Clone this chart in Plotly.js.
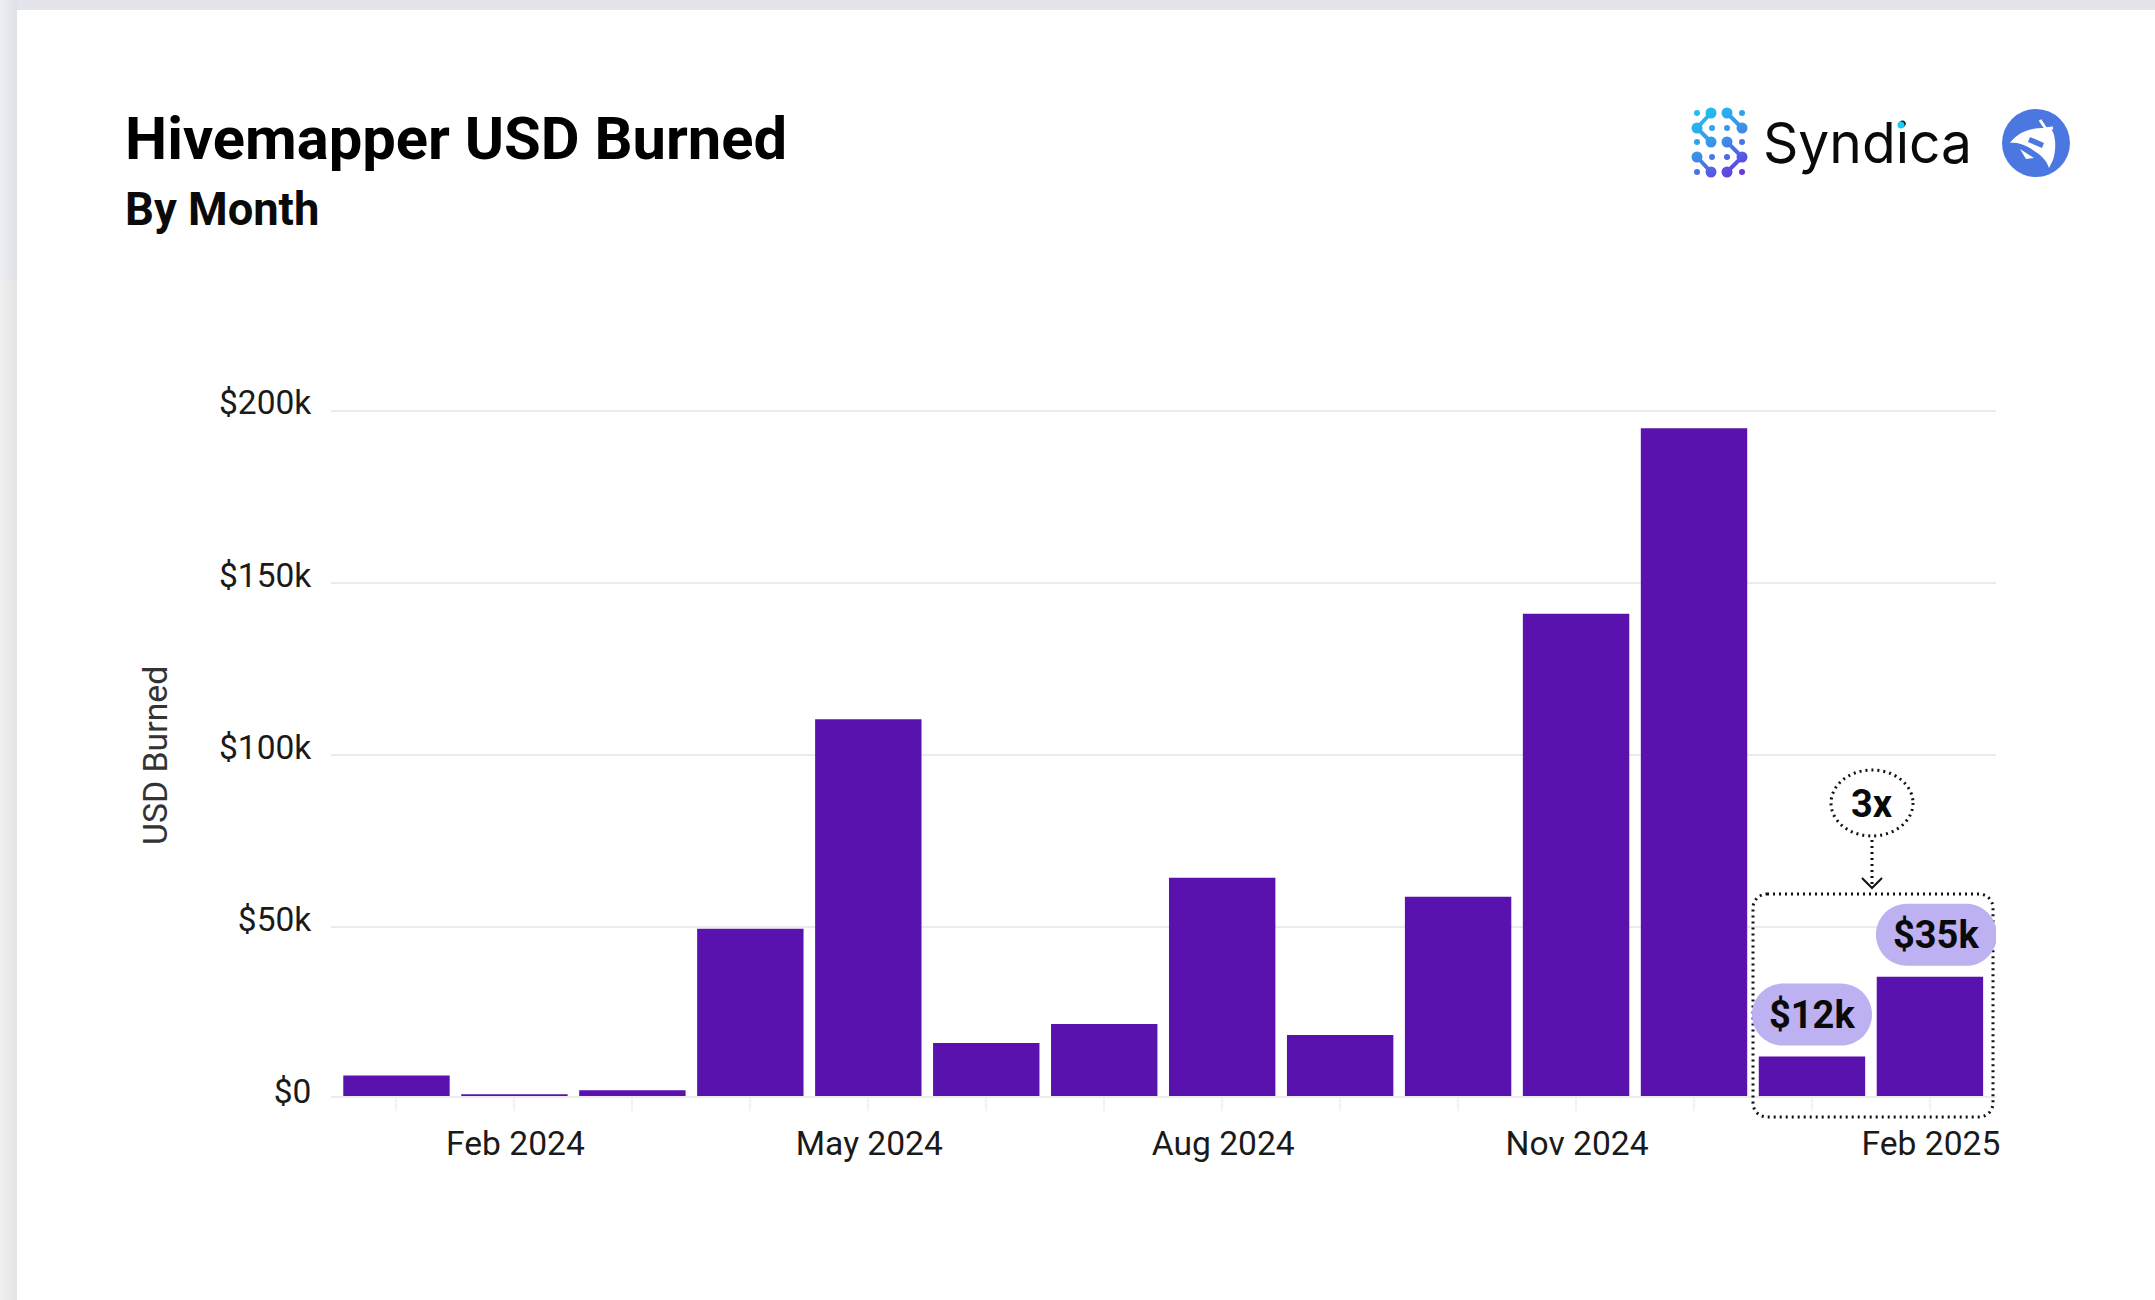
<!DOCTYPE html>
<html>
<head>
<meta charset="utf-8">
<script src="https://cdn.plot.ly/plotly-3.0.1.min.js"></script>
<style>
html,body{margin:0;padding:0;background:#fff;width:2155px;height:1300px;overflow:hidden}
#top{position:absolute;left:0;top:0;width:2155px;height:10px;background:#e3e5ea}
#left1{position:absolute;left:0;top:0;width:17px;height:280px;background:linear-gradient(90deg,#eceef2,#dfe1e8)}
#left2{position:absolute;left:0;top:280px;width:17px;height:1020px;background:linear-gradient(90deg,#efefef,#e4e4e4)}
#chart{position:absolute;left:0;top:0;width:2155px;height:1300px}
#logo{position:absolute;left:0;top:0;width:2155px;height:1300px;pointer-events:none}
</style>
</head>
<body>
<div id="top"></div><div id="left1"></div><div id="left2"></div>
<div id="chart"></div>
<svg id="logo" viewBox="0 0 2155 1300" xmlns="http://www.w3.org/2000/svg">
  <defs>
    <linearGradient id="sg" gradientUnits="userSpaceOnUse" x1="1700" y1="108" x2="1742" y2="176">
      <stop offset="0" stop-color="#1cc4f2"/>
      <stop offset="0.5" stop-color="#3d8fe8"/>
      <stop offset="1" stop-color="#6a2fe0"/>
    </linearGradient>
  </defs>
  <g id="sdots" fill="url(#sg)"></g>
  <g fill="none" stroke="url(#sg)" stroke-width="4" stroke-linecap="round" stroke-linejoin="round">
    <path d="M1711 113L1697 128L1711 142"/><path d="M1727 113L1742 128"/>
    <path d="M1727 142L1742 157L1727 172"/><path d="M1697 157L1711 172"/>
  </g>
  <text id="syn" x="1763" y="163" font-family="Inter" font-size="56" fill="#0a0a0a" textLength="209" lengthAdjust="spacingAndGlyphs">Syndica</text>
  <circle cx="1901" cy="125" r="3.5" fill="#1fc8ee"/>
  <circle cx="2036" cy="143" r="34" fill="#4a78e0"/>
  <path fill="#fff" d="M2010 143C2018 132 2030 128 2043 128C2050 128 2052 130 2053 132C2056 140 2056 150 2053 160L2049 168C2046 158 2038 153 2028 147C2022 144 2016 142 2010 143Z"/>
  <path fill="#4a78e0" d="M2030 137L2044 143L2042 148L2028 142Z"/>
  <path fill="#fff" d="M2020 149L2034 158L2026 159Z"/>
  <path fill="none" stroke="#fff" stroke-width="3" d="M2040 120L2046 129M2044 129L2053 128"/>
</svg>
<script>
var months = ['Jan 2024','Feb 2024','Mar 2024','Apr 2024','May 2024','Jun 2024','Jul 2024','Aug 2024','Sep 2024','Oct 2024','Nov 2024','Dec 2024','Jan 2025','Feb 2025'];
var usdBurned = [6000,500,1700,48800,110000,15500,21000,63700,17800,58200,140800,195000,11500,34800];
var monthTickText = ['','Feb 2024','','','May 2024','','','Aug 2024','','','Nov 2024','','','Feb 2025'];
var yTickVals = [0,50000,100000,150000,200000];
var yTickText = ['$0','$50k','$100k','$150k','$200k'];
var titleText = 'Hivemapper USD Burned';
var subtitleText = 'By Month';
var yTitleText = 'USD Burned';
var calloutMonths = ['Jan 2025','Feb 2025'];
var calloutText = ['$12k','$35k'];
var multipleText = '3x';

var W=2155,H=1300;
var P={l:331,r:1996,t:380,b:1096};
function fx(px){return (px-P.l)/(P.r-P.l);}
function fy(py){return (P.b-py)/(P.b-P.t);}
function rr(x0,x1,y0,y1,r){ // y up, pixels relative to an anchor
  var k=r*0.4477;
  return 'M'+(x0+r)+','+y1+' L'+(x1-r)+','+y1+' C'+(x1-k)+','+y1+' '+x1+','+(y1-k)+' '+x1+','+(y1-r)+
    ' L'+x1+','+(y0+r)+' C'+x1+','+(y0+k)+' '+(x1-k)+','+y0+' '+(x1-r)+','+y0+
    ' L'+(x0+r)+','+y0+' C'+(x0+k)+','+y0+' '+x0+','+(y0+k)+' '+x0+','+(y0+r)+
    ' L'+x0+','+(y1-r)+' C'+x0+','+(y1-k)+' '+(x0+k)+','+y1+' '+(x0+r)+','+y1+' Z';
}
var iA=months.indexOf(calloutMonths[0]), iB=months.indexOf(calloutMonths[1]);
var vA=usdBurned[iA], vB=usdBurned[iB];
var dot={color:'#111',width:3,dash:'2px,4px'};
// the dotted frame runs below the axis, so it hangs on the page rather than on the clipped plot area
function pg(o){return Object.assign({xref:'paper',yref:'paper',xsizemode:'pixel',ysizemode:'pixel',xanchor:fx(1871),yanchor:0},o);}
function pix(o){return Object.assign({xref:'x',yref:'y',xsizemode:'pixel',ysizemode:'pixel'},o);}
var shapes=[
  pg({type:'path',path:rr(-118,122,-21,202,14),line:dot}),
  pg({type:'circle',x0:-40,x1:42,y0:260,y1:326,line:dot}),
  pg({type:'line',x0:1,x1:1,y0:256,y1:212,line:dot}),
  pg({type:'path',path:'M-9,218 L1,208 L11,218',line:{color:'#111',width:2}}),
  pix({type:'path',xanchor:iA,yanchor:vA,path:rr(-60,60,11,73,31),fillcolor:'#bdb1f1',line:{width:0}}),
  pix({type:'path',xanchor:iB,yanchor:vB,path:rr(-54,67,11,73,31),fillcolor:'#bdb1f1',line:{width:0}})
];
var annFont={family:'Roboto',size:38,color:'#0a0a0a',weight:700};
var annotations=[
  {xref:'x',yref:'y',x:iA,y:vA,yshift:42,xshift:0,text:'<b>'+calloutText[0]+'</b>',showarrow:false,font:annFont},
  {xref:'x',yref:'y',x:iB,y:vB,yshift:42,xshift:6,text:'<b>'+calloutText[1]+'</b>',showarrow:false,font:annFont},
  {xref:'paper',yref:'paper',x:fx(1872),y:fy(804),xanchor:'center',yanchor:'middle',text:'<b>'+multipleText+'</b>',showarrow:false,font:annFont},
  {xref:'paper',yref:'paper',x:fx(122.5),y:fy(139),xanchor:'left',yanchor:'middle',text:'<b>'+titleText+'</b>',showarrow:false,font:{family:'Roboto',size:59.7,color:'#000'}},
  {xref:'paper',yref:'paper',x:fx(122.5),y:fy(210),xanchor:'left',yanchor:'middle',text:'<b>'+subtitleText+'</b>',showarrow:false,font:{family:'Roboto',size:45.3,color:'#0a0a0a'}},
  {xref:'paper',yref:'paper',x:fx(155),y:fy(756),xanchor:'center',yanchor:'middle',textangle:-90,text:yTitleText,showarrow:false,font:{family:'Roboto',size:33.8,color:'#333'}}
];
var pxPerUsd=(1096-411)/200000;          // bars
var labelScale=(1091.3-402.7)/200000;    // tick labels sit a little above their gridlines
var gridScale=(927-411)/150000;          // gridlines
var layout={
  width:W,height:H,
  paper_bgcolor:'rgba(0,0,0,0)',plot_bgcolor:'rgba(0,0,0,0)',
  margin:{l:P.l,r:W-P.r,t:P.t,b:H-P.b,pad:0},
  showlegend:false,bargap:0.098,
  font:{family:'Roboto',size:33.6,color:'#1a1a1a'},
  xaxis:{type:'category',categoryorder:'array',categoryarray:months,range:[-0.555,13.56],
    tickmode:'array',tickvals:months,ticktext:monthTickText,ticks:'outside',ticklen:13,tickwidth:2,tickcolor:'#f3f3f3',ticklabelstandoff:4,ticklabelshift:1,
    tickfont:{family:'Roboto',size:33.6,color:'#1a1a1a'},showgrid:false,zeroline:false,showline:true,linecolor:'#ececf0',linewidth:2},
  yaxis:{range:[0,(P.b-P.t)/pxPerUsd],showticklabels:false,ticks:'',showgrid:false,zeroline:false,showline:false},
  yaxis2:{overlaying:'y',side:'left',range:[-(P.b-1091.3)/labelScale,(1091.3-P.t)/labelScale],
    tickmode:'array',tickvals:yTickVals,ticktext:yTickText,ticks:'outside',ticklen:12,tickcolor:'rgba(0,0,0,0)',
    tickfont:{family:'Roboto',size:33.5,color:'#1a1a1a'},showgrid:false,zeroline:false,showline:false},
  yaxis3:{overlaying:'y',side:'left',range:[200000-(P.b-411)/gridScale,200000+(411-P.t)/gridScale],
    tickmode:'array',tickvals:yTickVals,showticklabels:false,ticks:'',gridcolor:'#ebebef',gridwidth:2.5,zeroline:false,showline:false},
  shapes:shapes,annotations:annotations
};
var traces=[
  {type:'scatter',x:[],y:[],yaxis:'y3',xaxis:'x',hoverinfo:'skip',showlegend:false},
  {type:'scatter',x:[],y:[],yaxis:'y2',xaxis:'x',hoverinfo:'skip',showlegend:false},
  {type:'bar',x:months,y:usdBurned,marker:{color:'#5a12ae',line:{width:0}},hoverinfo:'x+y'}
];
Plotly.newPlot('chart',traces,layout,{displayModeBar:false,staticPlot:true});

// Syndica mark: small and large dots of the logo
var sPts=[[1697,113],[1742,113],[1712,128],[1727,128],[1697,142],[1742,142],[1712,157],[1727,157],[1697,172],[1742,172]];
var bPts=[[1711,113],[1727,113],[1697,128],[1742,128],[1711,142],[1727,142],[1697,157],[1742,157],[1711,172],[1727,172]];
var g=document.getElementById('sdots'),s='';
sPts.forEach(function(p){s+='<circle cx="'+p[0]+'" cy="'+p[1]+'" r="3"/>';});
bPts.forEach(function(p){s+='<circle cx="'+p[0]+'" cy="'+p[1]+'" r="5.5"/>';});
g.innerHTML=s;
</script>
</body>
</html>
